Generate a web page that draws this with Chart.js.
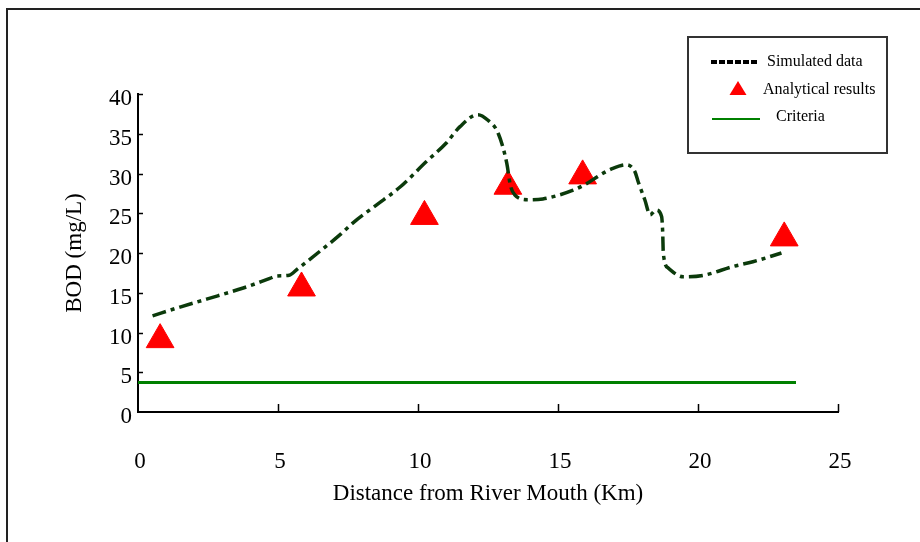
<!DOCTYPE html>
<html>
<head>
<meta charset="utf-8">
<title>BOD vs distance</title>
<script src="https://cdn.jsdelivr.net/npm/chart.js@4.4.1/dist/chart.umd.min.js"></script>
<style>
  body { margin: 0; background: #fff; }
  canvas { display: block; }
</style>
</head>
<body>
<canvas id="myChart" width="920" height="542"></canvas>
<script>
// valores: distancia (km) e BOD (mg/L)
var simX = [0.52, 1.5, 2.45, 3.76, 4.71, 4.95, 5.4, 5.7, 6.56, 7.25, 7.68, 8.5, 9.36, 10.3, 11.0, 11.5, 12.14, 12.5, 12.86, 13.17, 13.3, 13.46, 13.93, 14.46, 14.95, 15.54, 15.96, 16.5, 16.96, 17.45, 17.75, 17.86, 18.1, 18.29, 18.5, 18.7, 18.74, 18.76, 18.94, 19.47, 20.2, 21.25, 21.96, 22.98];
var simY = [12.1, 13.2, 14.2, 15.6, 16.8, 17.1, 17.2, 18.0, 20.4, 22.4, 23.8, 26.0, 28.3, 31.5, 33.8, 35.9, 37.4, 36.7, 35.1, 31.3, 28.5, 27.3, 26.7, 26.8, 27.2, 27.9, 28.6, 29.8, 30.65, 31.1, 30.2, 29.0, 26.7, 24.8, 25.4, 24.6, 22.5, 20.0, 18.1, 17.0, 17.2, 18.3, 18.9, 20.0];

var labX = [0.79, 5.84, 10.23, 13.21, 15.88, 23.08];
var labY = [9.1, 15.6, 24.6, 28.4, 29.7, 21.9];

var critX = [0, 23.5];
var critY = [3.7, 3.7];

var xTicks = [0, 5, 10, 15, 20, 25];
var yTicks = [0, 5, 10, 15, 20, 25, 30, 35, 40];

var seriesNames = ["Simulated data", "Analytical results", "Criteria"];
var xTitle = "Distance from River Mouth (Km)";
var yTitle = "BOD (mg/L)";

var simColor = "#0b3a0b";
var labColor = "#ff0000";
var critColor = "#008000";
var serif = "'Liberation Serif', 'Times New Roman', serif";

function toPoints(xs, ys) {
  return xs.map(function (x, i) { return { x: x, y: ys[i] }; });
}

// frame, inner ticks and the boxed legend
var decorPlugin = {
  id: "decor",
  beforeDraw: function (chart) {
    var ctx = chart.ctx;
    ctx.save();
    ctx.fillStyle = "#fff";
    ctx.fillRect(0, 0, chart.width, chart.height);
    ctx.restore();
  },
  afterDraw: function (chart) {
    var ctx = chart.ctx;
    var xs = chart.scales.x, ys = chart.scales.y;
    var area = chart.chartArea;
    ctx.save();

    // outer frame (left + top only visible)
    ctx.strokeStyle = "#222";
    ctx.lineWidth = 2;
    ctx.beginPath();
    ctx.moveTo(7, chart.height);
    ctx.lineTo(7, 9);
    ctx.lineTo(chart.width, 9);
    ctx.stroke();

    // ticks pointing into the plot
    ctx.strokeStyle = "#000";
    ctx.lineWidth = 1.5;
    ctx.beginPath();
    yTicks.forEach(function (v) {
      if (v === 0) return;
      var py = Math.round(ys.getPixelForValue(v)) + 0.5;
      ctx.moveTo(area.left, py);
      ctx.lineTo(area.left + 5, py);
    });
    xTicks.forEach(function (v) {
      if (v === 0) return;
      var px = Math.round(xs.getPixelForValue(v)) + 0.5;
      ctx.moveTo(px, area.bottom);
      ctx.lineTo(px, area.bottom - 8);
    });
    ctx.stroke();

    // legend box
    ctx.strokeStyle = "#333";
    ctx.lineWidth = 2;
    ctx.strokeRect(688, 37, 199, 116);

    ctx.lineWidth = 4;
    ctx.strokeStyle = "#000";
    ctx.setLineDash([6, 2]);
    ctx.beginPath();
    ctx.moveTo(711, 62);
    ctx.lineTo(759, 62);
    ctx.stroke();
    ctx.setLineDash([]);

    ctx.fillStyle = labColor;
    ctx.beginPath();
    ctx.moveTo(738, 81);
    ctx.lineTo(746.5, 95);
    ctx.lineTo(729.5, 95);
    ctx.closePath();
    ctx.fill();

    ctx.strokeStyle = critColor;
    ctx.lineWidth = 2;
    ctx.beginPath();
    ctx.moveTo(712, 119);
    ctx.lineTo(760, 119);
    ctx.stroke();

    ctx.fillStyle = "#000";
    ctx.font = "16px " + serif;
    ctx.textBaseline = "middle";
    ctx.fillText(seriesNames[0], 767, 62);
    ctx.fillText(seriesNames[1], 763, 90);
    ctx.fillText(seriesNames[2], 776, 117);
    ctx.restore();
  }
};

var ctx = document.getElementById("myChart").getContext("2d");
var myChart = new Chart(ctx, {
  type: "scatter",
  data: {
    datasets: [
      {
        label: seriesNames[0],
        type: "line",
        data: toPoints(simX, simY),
        borderColor: simColor,
        borderWidth: 3.5,
        borderDash: [14, 5, 4, 5],
        pointRadius: 0,
        fill: false,
        cubicInterpolationMode: "monotone"
      },
      {
        label: seriesNames[1],
        data: toPoints(labX, labY),
        pointStyle: "triangle",
        pointRadius: 16,
        backgroundColor: labColor,
        borderColor: labColor,
        borderWidth: 1
      },
      {
        label: seriesNames[2],
        type: "line",
        data: toPoints(critX, critY),
        borderColor: critColor,
        borderWidth: 3,
        pointRadius: 0,
        fill: false
      }
    ]
  },
  options: {
    responsive: false,
    animation: false,
    events: [],
    layout: { padding: { top: 94, right: 82, left: 0, bottom: 0 } },
    plugins: {
      legend: { display: false },
      tooltip: { enabled: false }
    },
    scales: {
      x: {
        type: "linear",
        min: 0,
        max: 25,
        afterBuildTicks: function (s) { s.ticks = xTicks.map(function (v) { return { value: v }; }); },
        afterFit: function (s) { s.height = 130; },
        grid: { display: false, drawTicks: false },
        border: { display: true, color: "#000", width: 2 },
        ticks: {
          padding: 36,
          labelOffset: 2,
          maxRotation: 0,
          color: "#000",
          font: { family: serif, size: 23 }
        },
        title: {
          display: true,
          text: xTitle,
          color: "#000",
          font: { family: serif, size: 23 },
          padding: { top: 0, bottom: 34 }
        }
      },
      y: {
        type: "linear",
        min: 0,
        max: 40,
        afterBuildTicks: function (s) { s.ticks = yTicks.map(function (v) { return { value: v }; }); },
        afterFit: function (s) { s.width = 138; },
        grid: { display: false, drawTicks: false },
        border: { display: true, color: "#000", width: 2 },
        ticks: {
          padding: 6,
          labelOffset: 5,
          color: "#000",
          font: { family: serif, size: 23 }
        },
        title: {
          display: true,
          text: yTitle,
          color: "#000",
          font: { family: serif, size: 23 },
          padding: { top: 61, bottom: 0 }
        }
      }
    }
  },
  plugins: [decorPlugin]
});
</script>
</body>
</html>
